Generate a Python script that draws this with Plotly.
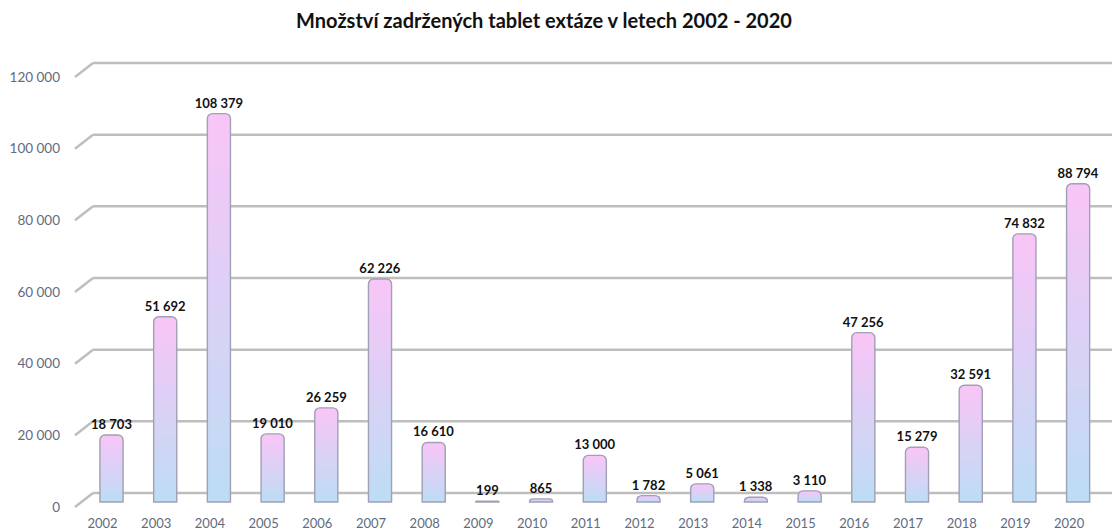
import plotly.graph_objects as go

years = [str(y) for y in range(2002, 2021)]
values = [18703, 51692, 108379, 19010, 26259, 62226, 16610, 199, 865, 13000,
          1782, 5061, 1338, 3110, 47256, 15279, 32591, 74832, 88794]
y_ticks = [0, 20000, 40000, 60000, 80000, 100000, 120000]
title_text = "Množství zadržených tablet extáze v letech 2002 - 2020"

W, H = 1112, 530
FONT = "Lato"
TOP = (247, 198, 247)     # pink top of cylinders
BOTTOM = (190, 220, 244)  # light blue base
N_LAYERS = 14

fig = go.Figure()

# gradient: overlay progressively shorter bars, pink (top) -> blue (bottom)
for k in range(N_LAYERS, 0, -1):
    t = (k - 1) / (N_LAYERS - 1)
    c = tuple(round(BOTTOM[i] + (TOP[i] - BOTTOM[i]) * t) for i in range(3))
    fig.add_trace(go.Bar(
        x=years, y=[v * k / N_LAYERS for v in values],
        width=0.43,
        marker=dict(color="rgb(%d,%d,%d)" % c, line=dict(width=0),
                    cornerradius=5 if k == N_LAYERS else 0),
        hoverinfo="skip", showlegend=False,
    ))

# outline of the cylinders + value labels
fig.add_trace(go.Bar(
    x=years, y=values, width=0.43,
    marker=dict(color="rgba(0,0,0,0)", line=dict(width=1.4, color="#a0a0b6"),
                cornerradius=5),
    texttemplate="<b>%{y:,}</b>", textposition="outside", constraintext="none",
    textfont=dict(family=FONT, size=13, color="#111111"),
    cliponaxis=False, showlegend=False,
))

# 3D-looking gridlines on the back wall (offset up/right from the front plane)
shapes = []
for v in y_ticks:
    shapes.append(dict(type="line", layer="below",
                       xref="x domain", x0=0, x1=1,
                       yref="y", ysizemode="pixel", yanchor=v, y0=9, y1=9,
                       line=dict(color="#bebebe", width=2.5)))
    shapes.append(dict(type="line", layer="below",
                       xref="x domain", xsizemode="pixel", xanchor=0, x0=-18, x1=0,
                       yref="y", ysizemode="pixel", yanchor=v, y0=-5, y1=9,
                       line=dict(color="#bebebe", width=2.5)))

fig.update_layout(
    width=W, height=H,
    margin=dict(l=93, r=0, t=54, b=17),
    paper_bgcolor="white", plot_bgcolor="white",
    barmode="overlay",
    separators=", ",
    title=dict(text="<b>" + title_text + "</b>", x=544 / W, xref="container",
               xanchor="center", y=1 - 21 / H, yref="container", yanchor="middle",
               font=dict(family=FONT, size=20, color="#111111")),
    shapes=shapes,
    xaxis=dict(
        type="category", range=[-0.3445, 18.631], automargin=False,
        showgrid=False, zeroline=False, showline=False, ticks="",
        ticklabelshift=-9, ticklabelstandoff=1,
        tickfont=dict(family=FONT, size=13, color="#5f6b80"),
    ),
    yaxis=dict(
        range=[-3070, 125023], automargin=False,
        tickvals=y_ticks, tickformat=",",
        showgrid=False, zeroline=False, showline=False, ticks="",
        ticklabelshift=5, ticklabelstandoff=32,
        tickfont=dict(family=FONT, size=13.5, color="#5f6b80"),
    ),
)

fig.write_html(
    "out.html",
    config={"displayModeBar": False},
    post_script="document.body.style.margin='0';document.body.style.overflow='hidden';",
)
